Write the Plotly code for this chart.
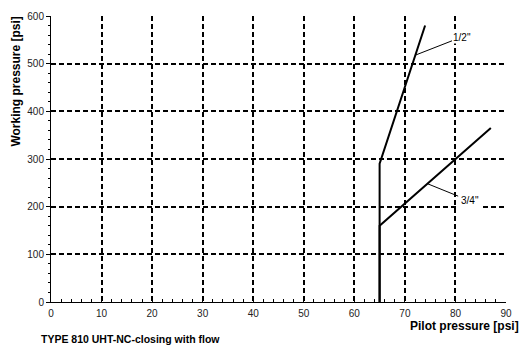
import plotly.graph_objects as go

# Data
half_x = [65, 65, 74]
half_y = [0, 290, 580]
three_x = [65, 65, 87]
three_y = [0, 160, 365]
x_ticks = [0, 10, 20, 30, 40, 50, 60, 70, 80, 90]
y_ticks = [0, 100, 200, 300, 400, 500, 600]

FONT = "Liberation Sans, Arial, sans-serif"
W, H = 522, 348
L, R, T, B = 51, 16, 10, 46
pw, ph = W - L - R, H - T - B


def px2paper(px, py):
    return (px - L) / pw, (H - B - py) / ph


fig = go.Figure()
fig.add_trace(go.Scatter(x=half_x, y=half_y, mode="lines",
                         line=dict(color="black", width=2), showlegend=False, hoverinfo="skip"))
fig.add_trace(go.Scatter(x=three_x, y=three_y, mode="lines",
                         line=dict(color="black", width=2), showlegend=False, hoverinfo="skip"))

# leader-line labels
fig.add_annotation(x=72.1, y=518, xref="x", yref="y", text='1/2"', showarrow=True,
                   arrowhead=0, arrowwidth=1, arrowcolor="black", ax=46, ay=-18,
                   font=dict(family=FONT, size=10, color="black"), bgcolor="white", borderpad=0)
fig.add_annotation(x=74.5, y=248, xref="x", yref="y", text='3/4"', showarrow=True,
                   arrowhead=0, arrowwidth=1, arrowcolor="black", ax=42, ay=17,
                   font=dict(family=FONT, size=10, color="black"), bgcolor="white", borderpad=2)

# axis titles and caption (positioned in pixels, converted to paper)
x0, y0 = px2paper(16, 77)
fig.add_annotation(x=x0, y=y0, xref="paper", yref="paper", text="<b>Working pressure [psi]</b>",
                   showarrow=False, textangle=-90, xanchor="center", yanchor="middle",
                   font=dict(family=FONT, size=12, color="black"))
x0, y0 = px2paper(521, 327)
fig.add_annotation(x=x0, y=y0, xref="paper", yref="paper", text="<b>Pilot pressure [psi]</b>",
                   showarrow=False, xanchor="right", yanchor="middle",
                   font=dict(family=FONT, size=12, color="black"))
x0, y0 = px2paper(39, 340)
fig.add_annotation(x=x0, y=y0, xref="paper", yref="paper",
                   text="<b>TYPE 810 UHT-NC-closing with flow</b>", showarrow=False,
                   xanchor="left", yanchor="middle", font=dict(family=FONT, size=10.5, color="black"))

fig.update_layout(
    width=W, height=H,
    margin=dict(l=L, r=R, t=T, b=B),
    paper_bgcolor="white", plot_bgcolor="white",
    font=dict(family=FONT, size=10, color="black"),
    xaxis=dict(range=[0, 90], tickvals=x_ticks, showgrid=True, gridcolor="black",
               griddash="5px,3px", gridwidth=1.5, showline=True, linecolor="black", linewidth=1,
               ticks="inside", ticklen=3, tickcolor="black", zeroline=False,
               ticklabelstandoff=2,
               minor=dict(dtick=2, ticks="inside", ticklen=3, tickcolor="black", showgrid=False),
               tickfont=dict(family=FONT, size=10, color="#222")),
    yaxis=dict(range=[0, 600], tickvals=y_ticks, showgrid=True, gridcolor="black",
               griddash="5px,3px", gridwidth=1.5, showline=True, linecolor="black", linewidth=1,
               ticks="outside", ticklen=4, tickcolor="black", zeroline=False,
               minor=dict(dtick=20, ticks="outside", ticklen=2, tickcolor="black", showgrid=False),
               tickfont=dict(family=FONT, size=10, color="#222")),
)

fig.write_html("out.html")
